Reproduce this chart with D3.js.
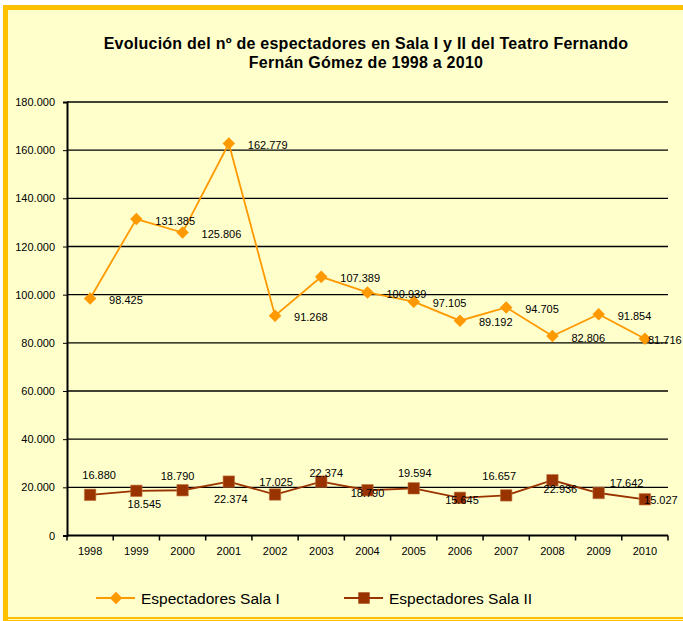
<!DOCTYPE html>
<html>
<head>
<meta charset="utf-8">
<script src="https://cdn.jsdelivr.net/npm/d3@7"></script>
<style>
  html, body { margin: 0; padding: 0; background: #fff; }
  svg { display: block; font-family: Arial, "Liberation Sans", sans-serif; }
</style>
</head>
<body>
<div id="chart"></div>
<script>
const years = ["1998", "1999", "2000", "2001", "2002", "2003", "2004", "2005", "2006", "2007", "2008", "2009", "2010"];
const salaI = [98425, 131385, 125806, 162779, 91268, 107389, 100939, 97105, 89192, 94705, 82806, 91854, 81716];
const salaII = [16880, 18545, 18790, 22374, 17025, 22374, 18790, 19594, 15645, 16657, 22936, 17642, 15027];
const yTicks = [0, 20000, 40000, 60000, 80000, 100000, 120000, 140000, 160000, 180000];
const seriesNames = ["Espectadores Sala I", "Espectadores Sala II"];
const titleLines = ["Evolución del nº de espectadores en Sala I y II del Teatro Fernando", "Fernán Gómez de 1998 a 2010"];
// hand placement of the Sala II labels (Excel moved them around), [dx, dy] from the point
const labelNudgeII = [[9, -20], [8, 13], [-5, -14], [2, 17], [1, -12], [5, -9], [0, 3], [1, -15], [2, 2], [-7, -19], [8, 9], [28, -10], [16, 1]];

const [width, height] = [683, 621];
const orange = "#ff9900", brown = "#993300";

const loc = d3.formatLocale({ decimal: ",", thousands: ".", grouping: [3], currency: ["", "€"] });
const fmt = loc.format(",d");

const svg = d3.select("#chart").append("svg")
  .attr("width", width)
  .attr("height", height);

// background + frame
svg.append("rect").attr("width", width).attr("height", height).attr("fill", "#fff");
svg.append("rect")
  .attr("x", 5.5).attr("y", 7.5)
  .attr("width", width + 20).attr("height", height - 9)
  .attr("fill", "#ffffcc")
  .attr("stroke", "#ffc000")
  .attr("stroke-width", 5);
svg.append("line")
  .attr("x1", 8).attr("x2", width).attr("y1", 619.5).attr("y2", 619.5)
  .attr("stroke", "#fff9b0").attr("stroke-width", 1);

// title
svg.append("text")
  .attr("x", 366).attr("y", 48.5)
  .attr("text-anchor", "middle")
  .attr("font-weight", "bold")
  .attr("font-size", 16)
  .attr("letter-spacing", 0.25)
  .selectAll("tspan")
  .data(titleLines)
  .enter().append("tspan")
  .attr("x", 366)
  .attr("dy", (d, i) => i ? 19 : 0)
  .text(d => d);

const x = d3.scaleBand().domain(years).range([67, 668]);
const y = d3.scaleLinear().domain([0, 180000]).range([535.5, 102]);
const cx = d => x(d) + x.bandwidth() / 2;

// gridlines
svg.append("g").selectAll("line")
  .data(yTicks.filter(d => d > 0))
  .enter().append("line")
  .attr("x1", 67).attr("x2", 668)
  .attr("y1", d => y(d)).attr("y2", d => y(d))
  .attr("stroke", "#000")
  .attr("stroke-width", 1.3);

// y axis
const yAxis = svg.append("g")
  .attr("transform", "translate(67,0)")
  .call(d3.axisLeft(y).tickValues(yTicks).tickFormat(fmt).tickSize(4).tickPadding(8));
yAxis.select(".domain").attr("stroke-width", 2);
yAxis.selectAll("text").attr("font-size", 11).attr("fill", "#000").attr("font-family", null);

// x axis
const xAxis = svg.append("g")
  .attr("transform", "translate(0,535.5)")
  .call(d3.axisBottom(x).tickSize(0).tickPadding(12));
xAxis.select(".domain").attr("stroke-width", 2).attr("d", "M67,0H668");
xAxis.selectAll("text").attr("font-size", 11).attr("fill", "#000").attr("font-family", null);
xAxis.selectAll("line.bound")
  .data(years.map(d => x(d)).concat([x.range()[1]]))
  .enter().append("line")
  .attr("class", "bound")
  .attr("x1", d => d).attr("x2", d => d)
  .attr("y1", 0).attr("y2", 5)
  .attr("stroke", "#000").attr("stroke-width", 1.5);

const line = d3.line().x((d, i) => cx(years[i])).y(d => y(d));
const diamond = d3.symbol().type(d3.symbolDiamond2).size(100);
const square = d3.symbol().type(d3.symbolSquare).size(130);

// Sala I
svg.append("path").datum(salaI)
  .attr("d", line).attr("fill", "none")
  .attr("stroke", orange).attr("stroke-width", 1.8);
svg.append("g").selectAll("path")
  .data(salaI)
  .enter().append("path")
  .attr("d", diamond)
  .attr("transform", (d, i) => `translate(${cx(years[i])},${y(d)})`)
  .attr("fill", orange);
svg.append("g").selectAll("text")
  .data(salaI)
  .enter().append("text")
  .attr("font-size", 11)
  .attr("x", (d, i) => Math.min(cx(years[i]) + 19, 648))
  .attr("y", d => y(d) + 5.5)
  .text(d => fmt(d));

// Sala II
svg.append("path").datum(salaII)
  .attr("d", line).attr("fill", "none")
  .attr("stroke", brown).attr("stroke-width", 1.8);
svg.append("g").selectAll("path")
  .data(salaII)
  .enter().append("path")
  .attr("d", square)
  .attr("transform", (d, i) => `translate(${cx(years[i])},${y(d)})`)
  .attr("fill", brown)
  .attr("stroke", "#c0703a").attr("stroke-width", 0.6);
svg.append("g").selectAll("text")
  .data(salaII)
  .enter().append("text")
  .attr("font-size", 11)
  .attr("text-anchor", "middle")
  .attr("x", (d, i) => cx(years[i]) + labelNudgeII[i][0])
  .attr("y", (d, i) => y(d) + labelNudgeII[i][1] + 4)
  .text(d => fmt(d));

// legend
const legend = svg.append("g").attr("transform", "translate(0,598)");
const lg = legend.selectAll("g")
  .data(seriesNames)
  .enter().append("g")
  .attr("transform", (d, i) => `translate(${i ? 344 : 96},0)`);
lg.append("line")
  .attr("x1", 0).attr("x2", 39)
  .attr("stroke", (d, i) => i ? brown : orange)
  .attr("stroke-width", 1.8);
lg.append("path")
  .attr("transform", "translate(20,0)")
  .attr("d", (d, i) => i ? square() : diamond())
  .attr("fill", (d, i) => i ? brown : orange);
lg.append("text")
  .attr("x", 45).attr("y", 5.5)
  .attr("font-size", 15.5)
  .text(d => d);
</script>
</body>
</html>
